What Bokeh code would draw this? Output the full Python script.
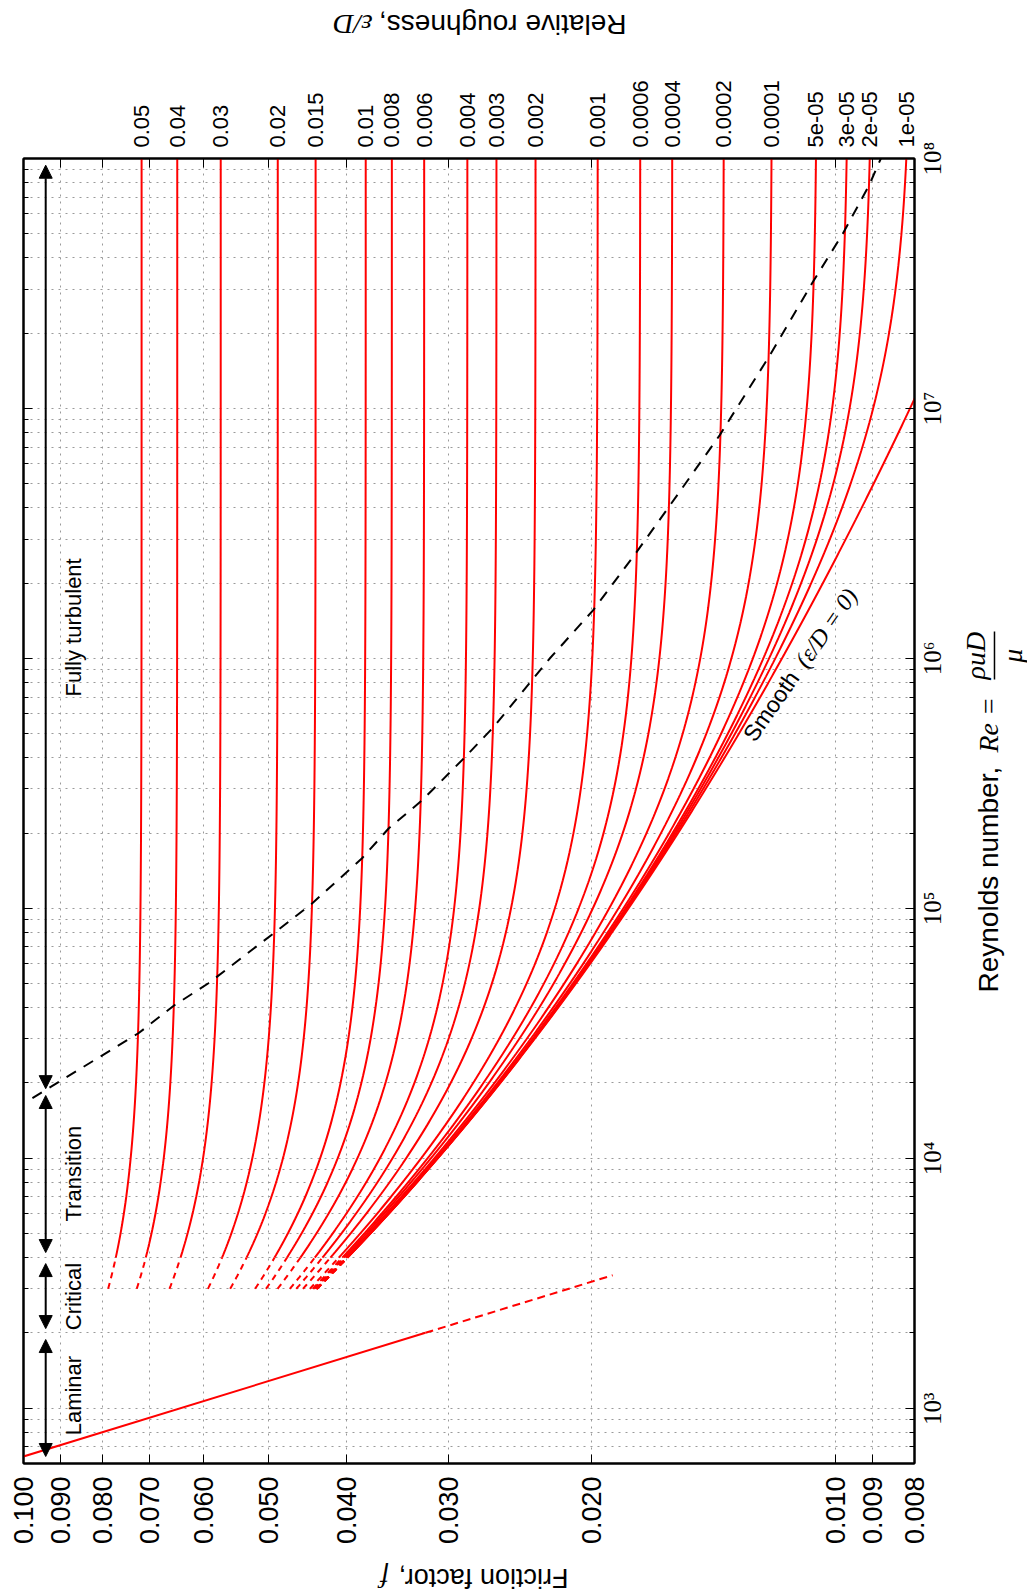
import numpy as np
from math import pi
from bokeh.plotting import figure
from bokeh.layouts import column, row
from bokeh.models import (Range1d, LogAxis, FixedTicker, Label, LabelSet,
                          ColumnDataSource, Arrow, NormalHead)
from bokeh.core.properties import value
from bokeh.embed import file_html
from bokeh.resources import INLINE

# ---------------- data ----------------
roughness = [0.05, 0.04, 0.03, 0.02, 0.015, 0.01, 0.008, 0.006, 0.004, 0.003,
             0.002, 0.001, 0.0006, 0.0004, 0.0002, 0.0001, 5e-05, 3e-05, 2e-05, 1e-05]
roughness_labels = ["0.05", "0.04", "0.03", "0.02", "0.015", "0.01", "0.008", "0.006",
                    "0.004", "0.003", "0.002", "0.001", "0.0006", "0.0004", "0.0002",
                    "0.0001", "5e-05", "3e-05", "2e-05", "1e-05"]
smooth_roughness = 0.0

f_ticks = [0.1, 0.09, 0.08, 0.07, 0.06, 0.05, 0.04, 0.03, 0.02, 0.01, 0.009, 0.008]
f_tick_labels = ["0.100", "0.090", "0.080", "0.070", "0.060", "0.050", "0.040",
                 "0.030", "0.020", "0.010", "0.009", "0.008"]
re_ticks = [1e3, 1e4, 1e5, 1e6, 1e7, 1e8]
re_tick_labels = ["10³", "10⁴", "10⁵", "10⁶", "10⁷", "10⁸"]
re_minor_ticks = [m * 10 ** d for d in range(2, 8) for m in range(2, 10)]

re_range = [600, 1e8]
f_range = [0.1, 0.008]

laminar_re_solid = [600, 2000]
laminar_re_dashed = [2000, 3400]
critical_re = [3000, 4000]       # dashed start of the turbulent curves
turbulent_re = [4000, 1e8]

# boundary of complete turbulence (dashed black)
boundary_f = [0.0975, 0.0722, 0.0652, 0.0592, 0.0492, 0.0441, 0.0383, 0.0355, 0.0323,
              0.0287, 0.0264, 0.0225, 0.0199, 0.0176, 0.0161, 0.0139, 0.0121, 0.0107,
              0.0098, 0.0091, 0.0088]
boundary_re = [17400, 31600, 40900, 50100, 79400, 104700, 158500, 208900, 270400,
               398100, 529700, 998000, 1.556e6, 2.655e6, 3.98e6, 7.8e6, 1.6e7, 3.16e7,
               5.01e7, 7.8e7, 1e8]

regimes = ["Laminar", "Critical", "Transition", "Fully turbulent"]
regime_re_lo = [640, 2080, 4190, 18970]
regime_re_hi = [1880, 3785, 17810, 9.4e7]
regime_label_re = [1122, 2793, 8670, 1.33e6]
regime_arrow_f = 0.0939
regime_label_f = 0.0868


def colebrook(re, rr):
    re = np.asarray(re, dtype=float)
    f = np.full_like(re, 0.02)
    for _ in range(100):
        f = (-2.0 * np.log10(rr / 3.7 + 2.51 / (re * np.sqrt(f)))) ** -2
    return f


SANS = "Liberation Sans"
SERIF = "Liberation Serif"
RED = "#ff0000"

# layout sizes
MAIN_W, MAIN_H = 964, 1510
TOP_H, BOT_H = 45, 41
RIGHT_W = 1027 - MAIN_W
B_LEFT, B_RIGHT, B_TOP, B_BOT = 23, 50, 113, 92
FRAME_H = MAIN_H - B_TOP - B_BOT
dpp = np.log10(re_range[1] / re_range[0]) / FRAME_H   # decades per pixel

x_rng = Range1d(*f_range)
y_rng = Range1d(*re_range)

# ---------------- main figure ----------------
p = figure(width=MAIN_W, height=MAIN_H, x_axis_type="log", y_axis_type="log",
           x_range=x_rng, y_range=y_rng, title=None,
           output_backend="svg", toolbar_location=None,
           min_border_left=B_LEFT, min_border_right=B_RIGHT, min_border_top=B_TOP,
           min_border_bottom=B_BOT)
p.outline_line_color = "black"
p.outline_line_width = 2
p.background_fill_color = "white"
p.border_fill_color = "white"

f_ticker = FixedTicker(ticks=f_ticks, minor_ticks=[])
re_ticker = FixedTicker(ticks=re_ticks, minor_ticks=re_minor_ticks)

# bottom axis: friction factor
xa = p.xaxis[0]
xa.ticker = f_ticker
xa.major_label_overrides = {t: l for t, l in zip(f_ticks, f_tick_labels)}
xa.major_label_orientation = pi / 2
xa.major_label_text_font = SANS
xa.major_label_text_font_size = "27px"
xa.major_label_text_color = "black"
xa.major_label_standoff = 13
xa.major_tick_in = 9
xa.major_tick_out = 0
xa.minor_tick_in = 0
xa.minor_tick_out = 0
xa.axis_line_width = 2

# left axis: ticks only (labels not drawn)
ya = p.yaxis[0]
ya.ticker = re_ticker
ya.major_label_overrides = {t: "" for t in re_ticks}
ya.major_label_text_color = None
ya.major_label_standoff = 0
ya.major_tick_in = 9
ya.major_tick_out = 0
ya.minor_tick_in = 5
ya.minor_tick_out = 0
ya.axis_line_width = 2

# right axis: tick marks
ra = LogAxis(ticker=re_ticker, major_label_overrides={t: "" for t in re_ticks},
             major_label_text_color=None, major_label_standoff=0,
             major_tick_in=9, major_tick_out=0, minor_tick_in=5, minor_tick_out=0,
             axis_line_width=2)
p.add_layout(ra, "right")

# right axis labels: rotated labels start at their anchor, so the anchors sit
# half a label length below each decade to centre the labels on the decades
half_label_px = 17
label_pos = [t * 10 ** (-half_label_px * dpp) for t in re_ticks]
ra2 = LogAxis(ticker=FixedTicker(ticks=label_pos, minor_ticks=[]),
              major_label_overrides={t: l for t, l in zip(label_pos, re_tick_labels)},
              major_label_orientation=pi / 2,
              major_label_text_font=SERIF, major_label_text_font_size="25px",
              major_label_text_color="black", major_label_standoff=18,
              major_tick_in=0, major_tick_out=0, minor_tick_in=0, minor_tick_out=0,
              axis_line_color=None)
p.add_layout(ra2, "right")

# top axis: relative roughness labels at each curve's end, f ticks as marks
top_f = [float(colebrook([re_range[1]], rr)[0]) for rr in roughness]
ta = LogAxis(ticker=FixedTicker(ticks=top_f, minor_ticks=f_ticks),
             major_label_overrides={t: l for t, l in zip(top_f, roughness_labels)},
             major_label_orientation=pi / 2,
             major_label_text_font=SANS, major_label_text_font_size="22px",
             major_label_text_color="black", major_label_standoff=11,
             major_tick_in=0, major_tick_out=0, minor_tick_in=9, minor_tick_out=0,
             axis_line_width=2)
p.add_layout(ta, "above")

# grids
for g in (p.xgrid[0], p.ygrid[0]):
    g.grid_line_color = "#9a9a9a"
    g.grid_line_dash = "2 5"
    g.grid_line_width = 1
p.ygrid[0].minor_grid_line_color = "#9a9a9a"
p.ygrid[0].minor_grid_line_dash = "2 5"
p.ygrid[0].minor_grid_line_width = 1

# laminar line
lam_s = np.array(laminar_re_solid, dtype=float)
lam_d = np.array(laminar_re_dashed, dtype=float)
p.line(64.0 / lam_s, lam_s, line_color=RED, line_width=2)
p.line(64.0 / lam_d, lam_d, line_color=RED, line_width=2, line_dash="8 5")

# turbulent curves (Colebrook)
re_solid = np.geomspace(turbulent_re[0], turbulent_re[1], 400)
re_dash = np.geomspace(critical_re[0], critical_re[1], 20)
for rr in roughness + [smooth_roughness]:
    p.line(colebrook(re_solid, rr), re_solid, line_color=RED, line_width=2)
    p.line(colebrook(re_dash, rr), re_dash, line_color=RED, line_width=2,
           line_dash="6 5")

# boundary line
p.line(boundary_f, boundary_re, line_color="black", line_width=2, line_dash="11 9")

# regime arrows and labels
arr_src = ColumnDataSource(dict(x=[regime_arrow_f] * 4, y0=regime_re_lo, y1=regime_re_hi))
p.add_layout(Arrow(x_start="x", y_start="y0", x_end="x", y_end="y1", source=arr_src,
                   line_width=2, line_color="black",
                   start=NormalHead(size=13, fill_color="black", line_color="black"),
                   end=NormalHead(size=13, fill_color="black", line_color="black")))
reg_src = ColumnDataSource(dict(x=[regime_label_f] * 4, y=regime_label_re, text=regimes))
p.add_layout(LabelSet(x="x", y="y", text="text", source=reg_src, angle=pi / 2,
                      text_align="center", text_baseline="middle",
                      text_font=value(SANS), text_font_size="22px",
                      text_color="black"))

# smooth label
p.add_layout(Label(x=0.01281, y=477500, text="Smooth", angle=0.96,
                   text_align="left", text_baseline="alphabetic",
                   text_font=SANS, text_font_size="23px", text_color="black"))
p.add_layout(Label(x=0.01105, y=944000, text="(ε/D = 0)", angle=0.96,
                   text_align="left", text_baseline="alphabetic",
                   text_font=SERIF, text_font_style="italic",
                   text_font_size="24px", text_color="black"))


def blank(fig):
    fig.outline_line_color = None
    fig.background_fill_color = "white"
    fig.border_fill_color = "white"
    fig.grid.visible = False
    return fig


# ---------------- top strip: axis title "Relative roughness, ε/D" ----------------
pt = blank(figure(width=MAIN_W, height=TOP_H, x_axis_type="log", x_range=x_rng,
                  y_range=Range1d(0, 1), x_axis_location=None, y_axis_location=None,
                  title=None, output_backend="svg", toolbar_location=None,
                  min_border_left=B_LEFT, min_border_right=B_RIGHT,
                  min_border_top=0, min_border_bottom=0))
pt.text(x=[0.01810], y=[0.467], text=["Relative roughness,"], angle=pi,
        text_align="left", text_baseline="middle", text_font=value(SANS),
        text_font_size="28px", text_color="black")
pt.text(x=[0.03718], y=[0.467], text=["ε/D"], angle=pi,
        text_align="left", text_baseline="middle", text_font=value(SERIF),
        text_font_style="italic", text_font_size="28px", text_color="black")

# ---------------- bottom strip: axis title "Friction factor, f" ----------------
pb = blank(figure(width=MAIN_W, height=BOT_H, x_axis_type="log", x_range=x_rng,
                  y_range=Range1d(0, 1), x_axis_location=None, y_axis_location=None,
                  title=None, output_backend="svg", toolbar_location=None,
                  min_border_left=B_LEFT, min_border_right=B_RIGHT,
                  min_border_top=0, min_border_bottom=0))
pb.text(x=[0.02134], y=[0.451], text=["Friction factor,"], angle=pi,
        text_align="left", text_baseline="middle", text_font=value(SANS),
        text_font_size="27px", text_color="black")
pb.text(x=[0.03553], y=[0.451], text=["f"], angle=pi,
        text_align="left", text_baseline="middle", text_font=value(SERIF),
        text_font_style="italic", text_font_size="28px", text_color="black")

# ---------------- right strip: axis title ----------------
right_y = Range1d(10 ** (np.log10(re_range[0]) - B_BOT * dpp),
                  10 ** (np.log10(re_range[1]) + B_TOP * dpp))
pr = blank(figure(width=RIGHT_W, height=MAIN_H, y_axis_type="log", y_range=right_y,
                  x_range=Range1d(0, 1), x_axis_location=None, y_axis_location=None,
                  title=None, output_backend="svg", toolbar_location=None,
                  min_border_left=0, min_border_right=0,
                  min_border_top=0, min_border_bottom=0))
try:
    pr.frame_align = False
except Exception:
    pr.y_range = y_rng

pr.text(x=[0.381], y=[46000], text=["Reynolds number,"], angle=pi / 2,
        text_align="left", text_baseline="middle", text_font=value(SANS),
        text_font_size="28px", text_color="black")
pr.text(x=[0.381], y=[419800], text=["Re ="], angle=pi / 2,
        text_align="left", text_baseline="middle", text_font=value(SERIF),
        text_font_style="italic", text_font_size="28px", text_color="black")
pr.text(x=[0.175], y=[1.025e6], text=["ρuD"], angle=pi / 2,
        text_align="center", text_baseline="middle", text_font=value(SERIF),
        text_font_style="italic", text_font_size="28px", text_color="black")
pr.text(x=[0.762], y=[1.025e6], text=["μ"], angle=pi / 2,
        text_align="center", text_baseline="middle", text_font=value(SERIF),
        text_font_style="italic", text_font_size="28px", text_color="black")
pr.segment(x0=[0.476], y0=[822000], x1=[0.476], y1=[1.279e6],
           line_color="black", line_width=1.5)

layout = column(pt, row(p, pr), pb)
open("out.html", "w").write(file_html(layout, INLINE))
